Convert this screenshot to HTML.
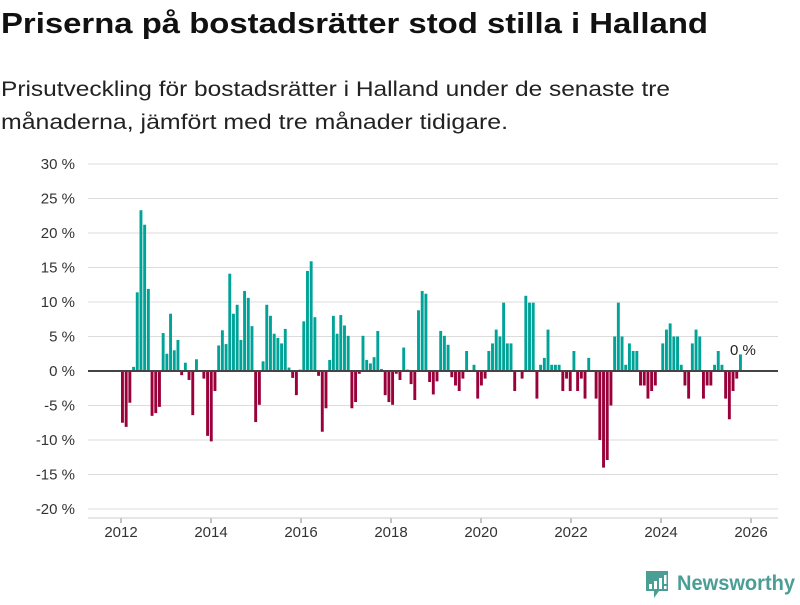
<!DOCTYPE html>
<html><head><meta charset="utf-8">
<style>
html,body{margin:0;padding:0;background:#fff;}
body{width:800px;height:600px;overflow:hidden;font-family:"Liberation Sans","DejaVu Sans",sans-serif;}
</style></head>
<body>
<svg id="chart" width="800" height="600" viewBox="0 0 800 600" xmlns="http://www.w3.org/2000/svg" font-family="'Liberation Sans','DejaVu Sans',sans-serif">
  <text x="1" y="33" font-size="29" font-weight="bold" fill="#111" textLength="707" lengthAdjust="spacingAndGlyphs">Priserna på bostadsrätter stod stilla i Halland</text>
  <text x="1" y="96" font-size="21" fill="#222" textLength="669" lengthAdjust="spacingAndGlyphs">Prisutveckling för bostadsrätter i Halland under de senaste tre</text>
  <text x="1" y="129" font-size="21" fill="#222" textLength="507" lengthAdjust="spacingAndGlyphs">månaderna, jämfört med tre månader tidigare.</text>
  <g id="grid"></g>
  <g id="yaxis"></g>
  <g id="xaxis"></g>
  <g id="bars"></g>
  <line id="zero" stroke="#444" stroke-width="2"/>
  <text id="lastlabel" font-size="15" fill="#222">0 %</text>
  <g>
    <path d="M646 571 h22 v20 h-9 l-5 7 v-7 h-8 z" fill="#4a9e94"/>
    <rect x="649" y="584" width="3" height="5" fill="#fff"/>
    <rect x="654" y="581" width="3" height="8" fill="#fff"/>
    <rect x="659" y="578" width="3" height="11" fill="#fff"/>
    <rect x="664" y="575" width="2.5" height="9" fill="#fff"/>
    <rect x="664" y="586" width="2.5" height="3" fill="#fff"/>
    <text x="677" y="590" font-size="21" font-weight="bold" fill="#4a9e94" textLength="118" lengthAdjust="spacingAndGlyphs">Newsworthy</text>
  </g>
</svg>
<script>
const startYear = 2012;
const values = [
-7.5,-8.1,-4.6,0.6,11.4,23.3,21.2,11.9,-6.5,-6.1,-5.2,5.5,2.5,8.3,3.0,4.5,-0.6,1.2,-1.3,-6.4,1.7,0,-1.1,-9.4,-10.2,-2.9,3.7,5.9,3.9,14.1,8.3,9.6,4.5,11.6,10.6,6.5,-7.4,
-4.9,1.4,9.6,8.0,5.4,4.8,4.0,6.1,0.5,-1.0,-3.5,0.2,7.2,14.5,15.9,7.8,-0.7,-8.8,-5.4,1.6,8.0,5.4,8.1,6.6,5.1,-5.4,-4.5,-0.4,5.1,1.6,1.1,2.0,5.8,0.3,-3.5,-4.5,-4.9,-0.4,-1.3,3.4,0.2,-1.9,-4.2,8.8,
11.6,11.2,-1.6,-3.4,-1.5,5.8,5.1,3.8,-0.9,-2.1,-2.9,-1.1,2.9,0,0.9,-4.0,-2.1,-1.1,2.9,4.0,6.0,5.0,9.9,4.0,4.0,-2.9,0,-1.1,10.9,9.9,9.9,-4.0,0.9,1.9,6.0,0.9,0.9,0.9,-2.9,-1.1,
-2.9,2.9,-2.9,-1.1,-4.0,1.9,0,-4.0,-10.0,-14.0,-12.9,-5.0,5.0,9.9,5.0,0.9,4.0,2.9,2.9,-2.1,-2.1,-4.0,-2.9,-2.1,0,4.0,6.0,6.9,5.0,5.0,0.9,-2.1,-4.0,4.0,6.0,5.0,-4.0,-2.1,-2.1,0.9,2.9,0.9,-4.0,-7.0,-2.9,-1.1,2.4
];
const yTicks = [30,25,20,15,10,5,0,-5,-10,-15,-20];
const xTicks = [2012,2014,2016,2018,2020,2022,2024,2026];

const NS = "http://www.w3.org/2000/svg";
const plotL = 88, plotR = 778;
function y(v){ return 371 - v*6.9; }
function x(yearFrac){ return 121 + (yearFrac - 2012)*45; }
function barX(i){ return 121 + i*(618/(values.length-1)); }
function mk(tag, attrs, parent){ const e=document.createElementNS(NS,tag); for(const k in attrs) e.setAttribute(k,attrs[k]); parent.appendChild(e); return e; }

const grid=document.getElementById('grid'), yax=document.getElementById('yaxis'), xax=document.getElementById('xaxis'), bars=document.getElementById('bars');
yTicks.forEach(t=>{
  const l=mk('line',{x1:plotL,x2:plotR,y1:y(t),y2:y(t),stroke:'#dcdcdc','stroke-width':1},grid);
  
  
  const tx=mk('text',{x:75,y:y(t)+5,'text-anchor':'end','font-size':15,fill:'#333'},yax);
  tx.textContent=t+' %';
  
  
});
xTicks.forEach(t=>{
  const tk=mk('line',{x1:x(t),x2:x(t),y1:518,y2:523,stroke:'#888','stroke-width':1},xax);
  
  
  const tx=mk('text',{x:x(t),y:537,'text-anchor':'middle','font-size':15,fill:'#333'},xax);
  tx.textContent=t;
  
  
});
const bl=mk('line',{x1:plotL,x2:plotR,y1:518,y2:518,stroke:'#ccc','stroke-width':1},xax);



values.forEach((v,i)=>{
  const xc = barX(i);
  const y0=y(0), y1=y(v);
  const r=mk('rect',{x:xc,y:Math.min(y0,y1),width:2.9,height:Math.abs(y1-y0),fill:v>=0?'#00a398':'#9a0039'},bars);
  
  
});
const z=document.getElementById('zero');
z.setAttribute('x1',plotL); z.setAttribute('x2',plotR); z.setAttribute('y1',y(0)); z.setAttribute('y2',y(0));
const ll=document.getElementById('lastlabel');
ll.setAttribute('x',730); ll.setAttribute('y',355);
</script>
</body></html>
